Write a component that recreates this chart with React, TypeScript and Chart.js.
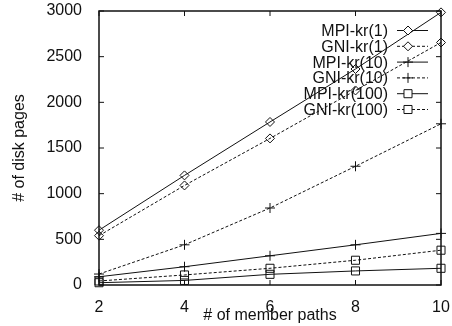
import React, { useEffect, useRef } from "react";
import { Chart, registerables } from "chart.js";

Chart.register(...registerables);

const memberPaths = [2, 4, 6, 8, 10];
const seriesLabels = ["MPI-kr(1)", "GNI-kr(1)", "MPI-kr(10)", "GNI-kr(10)", "MPI-kr(100)", "GNI-kr(100)"];
const mpiKr1 = [600, 1200, 1785, 2365, 2985];
const gniKr1 = [540, 1090, 1605, 2130, 2655];
const mpiKr10 = [90, 200, 320, 440, 565];
const gniKr10 = [120, 440, 843, 1300, 1765];
const mpiKr100 = [25, 50, 117, 154, 183];
const gniKr100 = [44, 110, 183, 271, 381];
const yTicks = [0, 500, 1000, 1500, 2000, 2500, 3000];
const xTicks = [2, 4, 6, 8, 10];

const FONT = "'Liberation Sans', Arial, sans-serif";
const INK = "#111";

function drawMarker(ctx: CanvasRenderingContext2D, style: string, x: number, y: number, r: number) {
  ctx.beginPath();
  if (style === "rectRot") {
    ctx.moveTo(x, y - r);
    ctx.lineTo(x + r, y);
    ctx.lineTo(x, y + r);
    ctx.lineTo(x - r, y);
    ctx.closePath();
    ctx.fill();
  } else if (style === "rect") {
    const s = Math.SQRT1_2 * r;
    ctx.rect(x - s, y - s, 2 * s, 2 * s);
    ctx.fill();
  } else {
    ctx.moveTo(x - r, y);
    ctx.lineTo(x + r, y);
    ctx.moveTo(x, y - r);
    ctx.lineTo(x, y + r);
  }
  ctx.stroke();
}

const framePlugin = {
  id: "frame",
  beforeDatasetsDraw(chart: any) {
    const { ctx, chartArea: a, scales } = chart;
    const xs = scales.x;
    const ys = scales.y;
    ctx.save();
    ctx.strokeStyle = INK;
    ctx.lineWidth = 1.5;
    ctx.setLineDash([]);
    ctx.strokeRect(a.left, a.top, a.right - a.left, a.bottom - a.top);
    ctx.lineWidth = 1;
    const tl = 5;
    ctx.beginPath();
    yTicks.forEach((v) => {
      const y = ys.getPixelForValue(v);
      ctx.moveTo(a.left, y);
      ctx.lineTo(a.left + tl, y);
      ctx.moveTo(a.right, y);
      ctx.lineTo(a.right - tl, y);
    });
    xTicks.forEach((v) => {
      const x = xs.getPixelForValue(v);
      ctx.moveTo(x, a.bottom);
      ctx.lineTo(x, a.bottom - tl);
      ctx.moveTo(x, a.top);
      ctx.lineTo(x, a.top + tl);
    });
    ctx.stroke();
    ctx.restore();
  },
  afterDatasetsDraw(chart: any) {
    const { ctx } = chart;
    ctx.save();
    // legend (gnuplot style: text right-aligned, sample line with marker)
    const textRight = 388;
    const lineL = 397;
    const lineR = 428;
    const mx = 408;
    const top = 30.5;
    const step = 15.8;
    ctx.font = `16px ${FONT}`;
    ctx.textAlign = "right";
    ctx.textBaseline = "middle";
    chart.data.datasets.forEach((ds: any, i: number) => {
      const y = top + i * step;
      ctx.fillStyle = INK;
      ctx.fillText(ds.label, textRight, y + 1);
      ctx.strokeStyle = INK;
      ctx.lineWidth = 1;
      ctx.setLineDash(ds.borderDash || []);
      ctx.beginPath();
      ctx.moveTo(lineL, y);
      ctx.lineTo(lineR, y);
      ctx.stroke();
      ctx.setLineDash([]);
      ctx.fillStyle = "#fff";
      drawMarker(ctx, ds.pointStyle, mx, y, ds.pointRadius);
    });
    ctx.restore();
  },
};

function App() {
  const ref = useRef<HTMLCanvasElement>(null);
  useEffect(() => {
    if (!ref.current) return;
    const mk = (label: string, vals: number[], style: string, radius: number, dashed: boolean) => ({
      label,
      data: memberPaths.map((x, i) => ({ x, y: vals[i] })),
      borderColor: INK,
      backgroundColor: "#fff",
      borderWidth: 1,
      borderDash: dashed ? [3, 2] : [],
      pointStyle: style,
      pointRadius: radius,
      pointBorderWidth: 1,
      pointBorderColor: INK,
      pointBackgroundColor: "rgba(255,255,255,0)",
      tension: 0,
      fill: false,
      clip: false,
    });
    const chart = new Chart(ref.current, {
      type: "line",
      data: {
        datasets: [
          mk(seriesLabels[0], mpiKr1, "rectRot", 4.5, false),
          mk(seriesLabels[1], gniKr1, "rectRot", 4.5, true),
          mk(seriesLabels[2], mpiKr10, "cross", 5, false),
          mk(seriesLabels[3], gniKr10, "cross", 5, true),
          mk(seriesLabels[4], mpiKr100, "rect", 5.7, false),
          mk(seriesLabels[5], gniKr100, "rect", 5.7, true),
        ],
      },
      plugins: [framePlugin],
      options: {
        animation: false,
        responsive: false,
        devicePixelRatio: 1,
        layout: { padding: { top: 11, right: 11, left: 0, bottom: 0 } },
        plugins: { legend: { display: false }, tooltip: { enabled: false } },
        scales: {
          x: {
            type: "linear",
            min: 2,
            max: 10,
            grid: { display: false },
            border: { display: false },
            afterFit: (s: any) => {
              s.height = 41;
              s.paddingLeft = 0;
              s.paddingRight = 0;
              s.paddingTop = 0;
              s.paddingBottom = 0;
            },
            afterBuildTicks: (s: any) => {
              s.ticks = xTicks.map((v) => ({ value: v }));
            },
            ticks: {
              color: INK,
              font: { family: FONT, size: 16 },
              padding: 5,
              maxRotation: 0,
              callback: (v: any) => String(v),
            },
            title: {
              display: true,
              text: "# of member paths",
              color: INK,
              font: { family: FONT, size: 16 },
              padding: { top: 0, bottom: 1 },
            },
          },
          y: {
            type: "linear",
            min: 0,
            max: 3000,
            grid: { display: false },
            border: { display: false },
            afterFit: (s: any) => {
              s.width = 99;
              s.paddingLeft = 0;
              s.paddingRight = 0;
              s.paddingTop = 0;
              s.paddingBottom = 0;
            },
            afterBuildTicks: (s: any) => {
              s.ticks = yTicks.map((v) => ({ value: v }));
            },
            ticks: {
              color: INK,
              font: { family: FONT, size: 16 },
              padding: 9,
              callback: (v: any) => String(v),
            },
            title: {
              display: true,
              text: "# of disk pages",
              color: INK,
              font: { family: FONT, size: 16 },
              padding: { top: 10, bottom: 6 },
            },
          },
        },
      },
    } as any);
    return () => chart.destroy();
  }, []);
  return (
    <div style={{ position: "fixed", left: 0, top: 0, width: 452, height: 326, background: "#fff" }}>
      <canvas ref={ref} width={452} height={326} style={{ width: 452, height: 326, display: "block" }} />
    </div>
  );
}

export default App;
